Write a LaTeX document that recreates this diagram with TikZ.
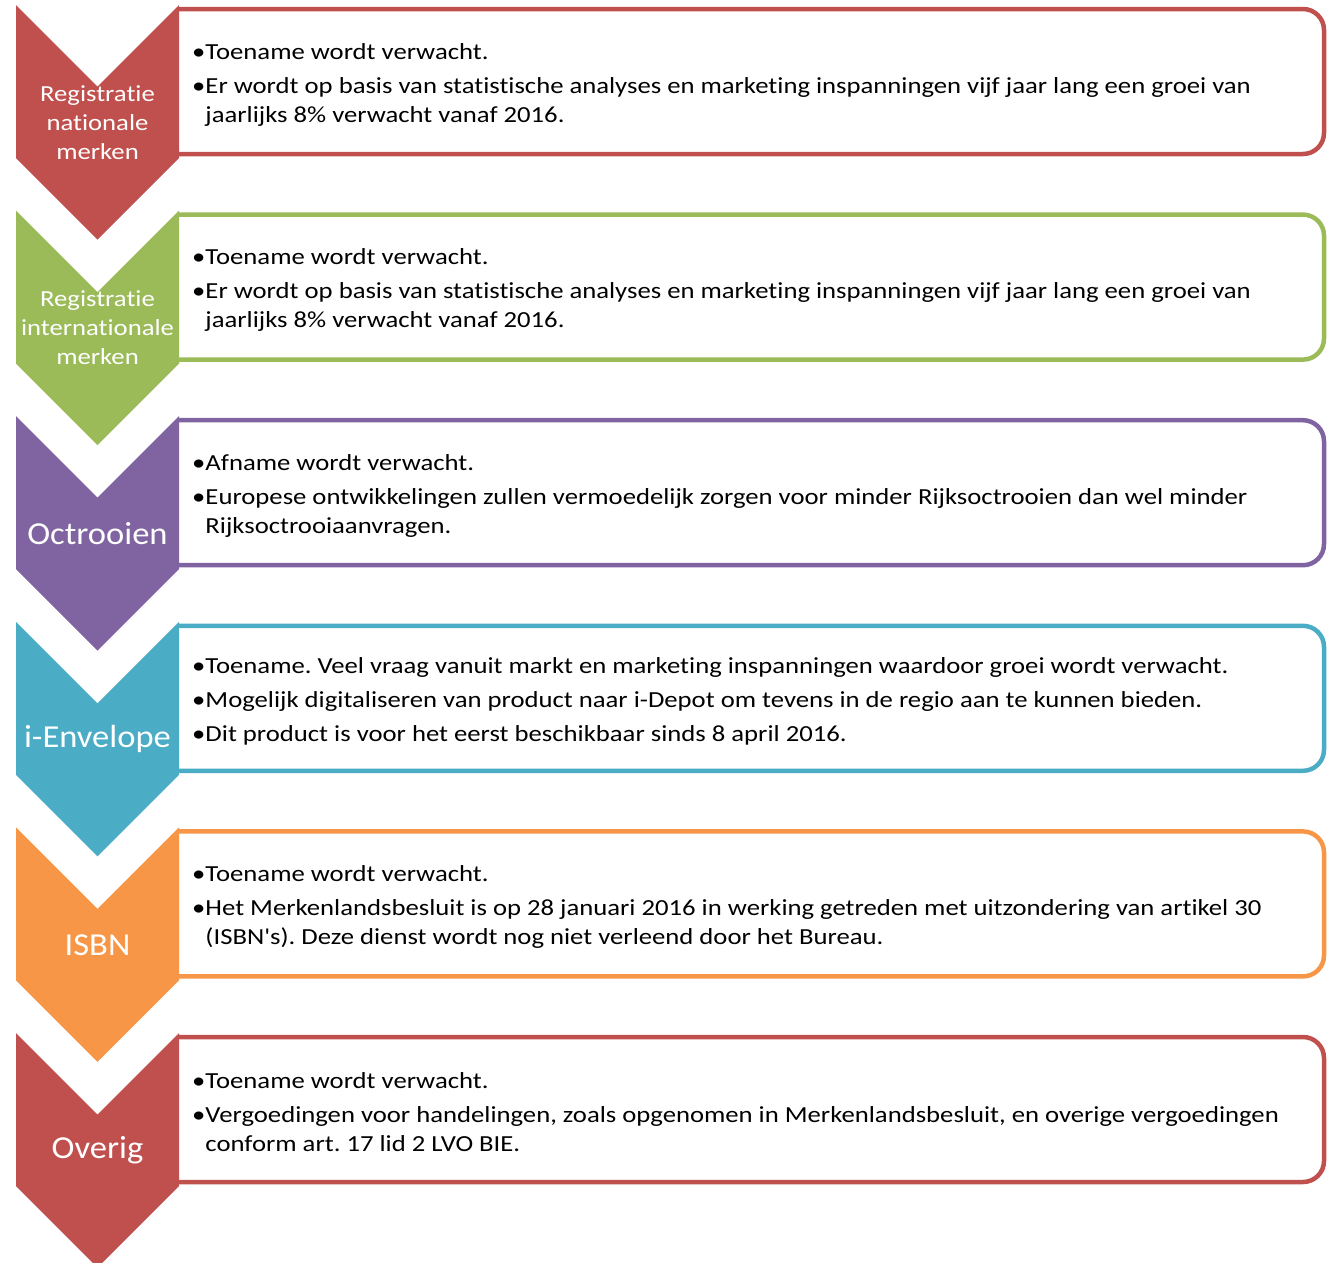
\documentclass[tikz,border=0pt]{standalone}
\usepackage{fontspec}
\setmainfont{Carlito}[Ligatures={NoCommon}]
\newfontfamily\bodyfont{Carlito}[Ligatures={NoCommon},FakeStretch=1.16]
\newfontfamily\bigfont{Carlito}[Ligatures={NoCommon},FakeStretch=1.08]
\definecolor{cred}{HTML}{C0504D}
\definecolor{cgreen}{HTML}{9BBB59}
\definecolor{cpurple}{HTML}{8064A2}
\definecolor{caqua}{HTML}{4BACC6}
\definecolor{corange}{HTML}{F79646}
\tikzset{
  boxline/.style={line width=4.5pt, fill=white, rounded corners=21pt},
  lab/.style={text=white, align=center, font=\bodyfont\fontsize{23}{29}\selectfont},
  biglab/.style={text=white, align=center, font=\bigfont\fontsize{32}{38}\selectfont},
  body/.style={anchor=west, align=left, inner sep=0pt, font=\bodyfont\fontsize{23}{29}\selectfont}
}
\newcommand{\stage}[6]{% #1 name, #2 y0, #3 colour, #4 label style, #5 label, #6 body
  \draw[boxline, draw=#3] (179,#2+4) -- (1324,#2+4) -- (1324,#2+149) -- (179,#2+149);
  \fill[#3] (16,#2) -- (97.5,#2+81.5) -- (179,#2) -- (179,#2+153) -- (97.5,#2+234.5) -- (16,#2+153) -- cycle;
  \node[#4] (#1-lab) at (97.5,#2+117.5) {#5};
  \node[body] (#1-txt) at (192,#2+79.5) {#6};
}
\newcommand{\ind}{\hphantom{•}}
\begin{document}
\frenchspacing
\begin{tikzpicture}[x=1pt,y=-1pt]
\useasboundingbox (0,0) rectangle (1334,1262);
\stage{s1}{5}{cred}{lab}{Registratie\\nationale\\merken}{•Toename wordt verwacht.\\[5pt]•Er wordt op basis van statistische analyses en marketing inspanningen vijf jaar lang een groei van\\\ind jaarlijks 8\% verwacht vanaf 2016.}
\stage{s2}{210.6}{cgreen}{lab}{Registratie\\internationale\\merken}{•Toename wordt verwacht.\\[5pt]•Er wordt op basis van statistische analyses en marketing inspanningen vijf jaar lang een groei van\\\ind jaarlijks 8\% verwacht vanaf 2016.}
\stage{s3}{416.2}{cpurple}{biglab}{Octrooien}{•Afname wordt verwacht.\\[5pt]•Europese ontwikkelingen zullen vermoedelijk zorgen voor minder Rijksoctrooien dan wel minder\\\ind Rijksoctrooiaanvragen.}
\stage{s4}{621.8}{caqua}{biglab}{i-Envelope}{•Toename. Veel vraag vanuit markt en marketing inspanningen waardoor groei wordt verwacht.\\[5pt]•Mogelijk digitaliseren van product naar i-Depot om tevens in de regio aan te kunnen bieden.\\[5pt]•Dit product is voor het eerst beschikbaar sinds 8 april 2016.}
\stage{s5}{827.4}{corange}{biglab}{ISBN}{•Toename wordt verwacht.\\[5pt]•Het Merkenlandsbesluit is op 28 januari 2016 in werking getreden met uitzondering van artikel 30\\\ind (ISBN's). Deze dienst wordt nog niet verleend door het Bureau.}
\stage{s6}{1033}{cred}{biglab}{Overig}{•Toename wordt verwacht.\\[5pt]•Vergoedingen voor handelingen, zoals opgenomen in Merkenlandsbesluit, en overige vergoedingen\\\ind conform art. 17 lid 2 LVO BIE.}
\end{tikzpicture}
\end{document}
